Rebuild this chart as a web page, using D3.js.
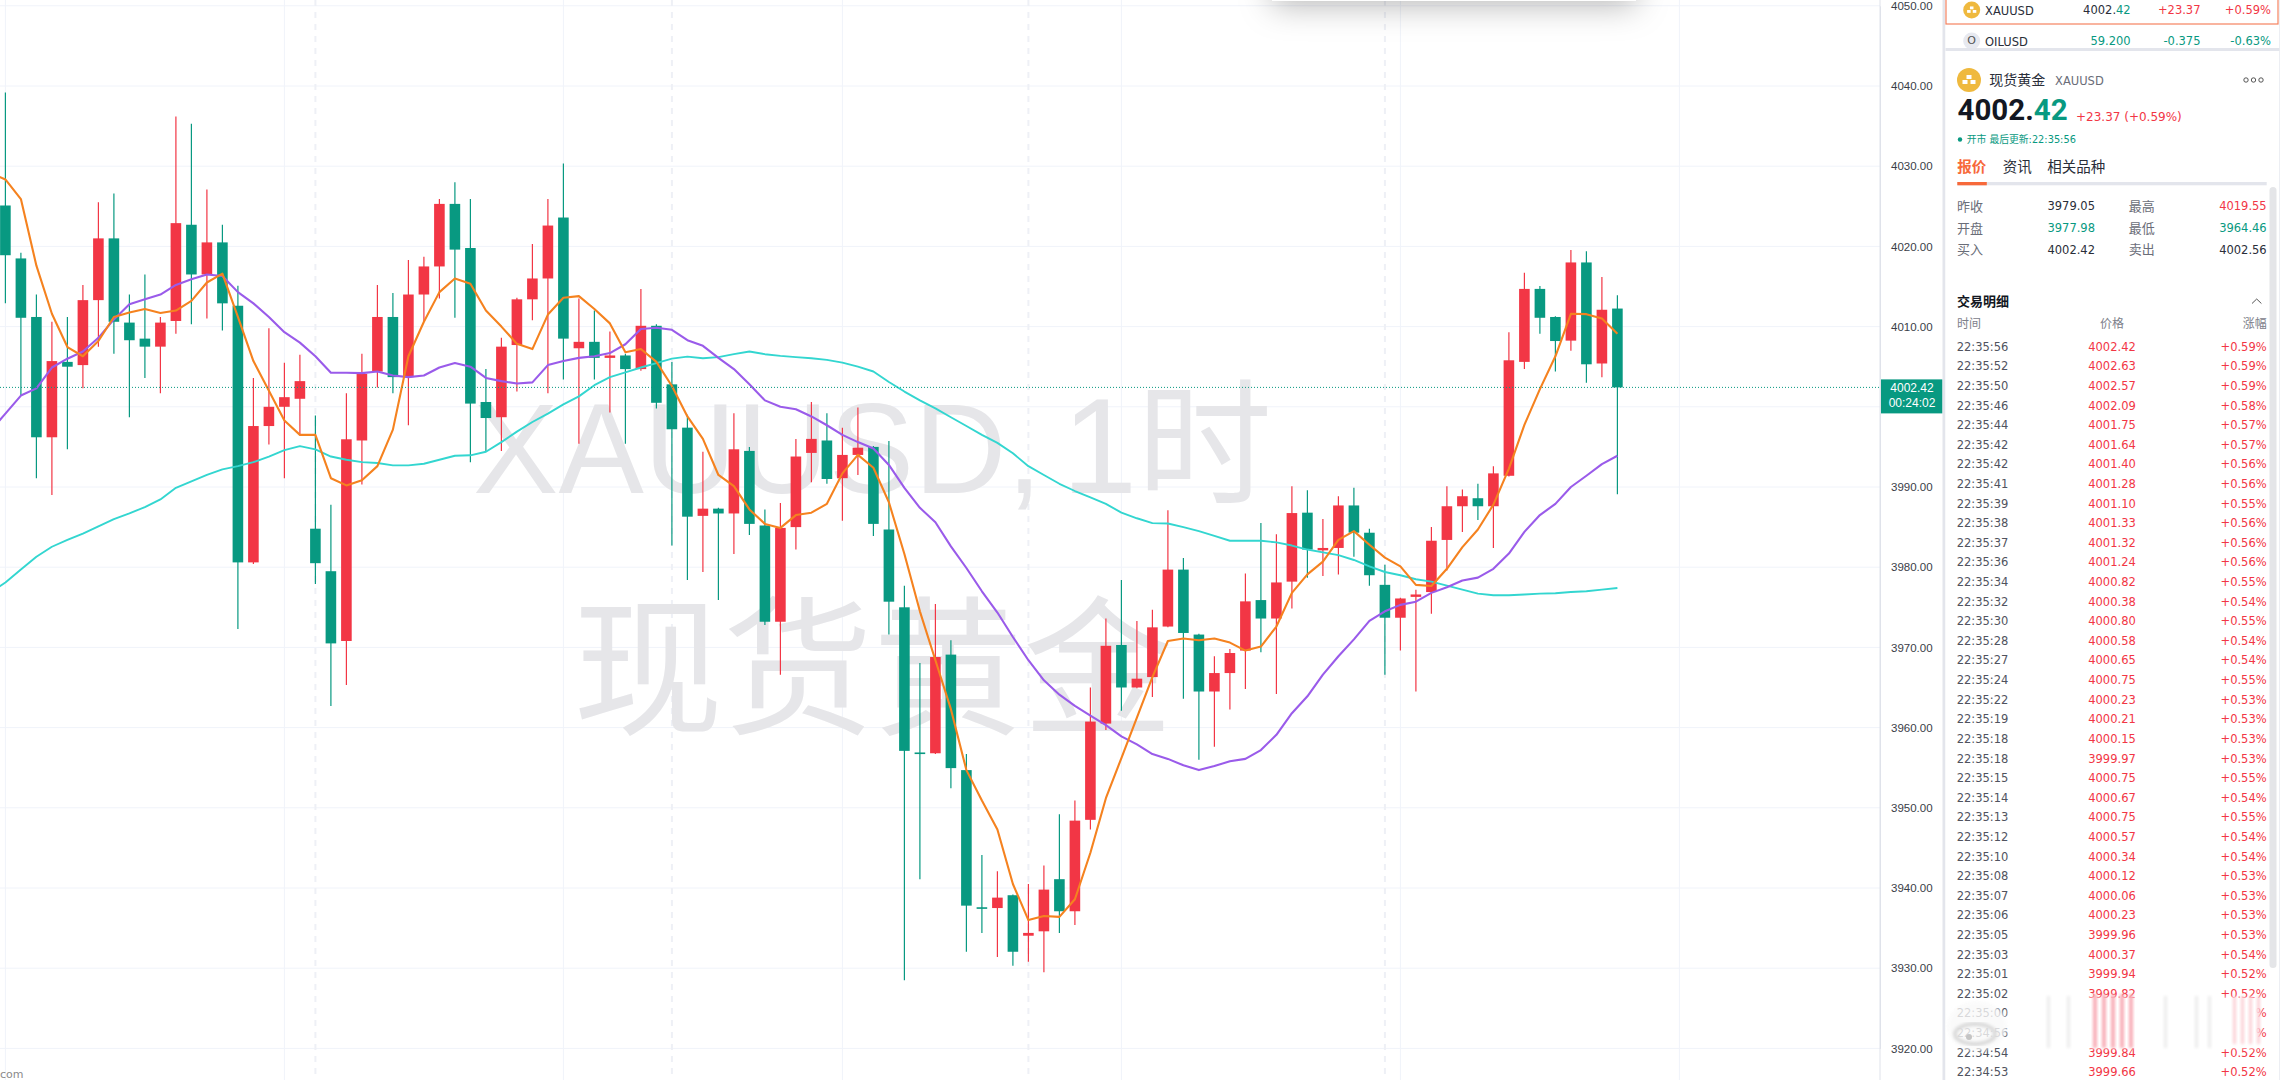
<!DOCTYPE html>
<html>
<head>
<meta charset="utf-8">
<script src="https://d3js.org/d3.v7.min.js"></script>
<style>
  html, body { margin: 0; padding: 0; background: #fff; overflow: hidden; }
  svg { display: block; }
</style>
</head>
<body>
<div id="chart"></div>
<script>
// hourly candles
const opens = [
  4025.1,4018.5,4011.2,3996.2,4005.6,4005.2,4013.3,4021.0,4010.5,4008.5,
  4007.5,4010.7,4022.7,4016.5,4020.5,4012.6,3980.6,3997.6,4000.0,4001.0,
  3984.8,3979.5,3970.8,3995.8,4004.4,4011.2,4003.7,4014.0,4017.5,4025.3,
  4019.8,4000.6,3998.7,4007.7,4013.4,4016.0,4023.6,4007.3,4008.1,4006.1,
  4006.4,4004.7,4010.1,4002.8,3997.4,3986.4,3987.3,3986.7,3994.5,3985.2,
  3973.2,3985.0,3994.25,3995.8,3991.1,3994.0,3995.0,3984.7,3975.0,3956.9,
  3956.8,3969.1,3954.7,3937.6,3937.5,3939.1,3934.05,3934.6,3941.1,3937.1,
  3948.5,3960.5,3970.3,3965.0,3966.3,3972.6,3979.7,3971.6,3964.5,3966.8,
  3969.6,3975.9,3973.6,3978.2,3986.8,3982.1,3982.4,3987.7,3984.3,3977.8,
  3973.7,3976.3,3976.9,3983.4,3987.6,3988.6,3987.6,3991.4,4005.6,4014.7,
  4011.2,4008.25,4018.0,4005.4,4012.25
];
const closes = [
  4018.9,4011.1,3996.2,4005.7,4005.0,4013.3,4021.0,4010.6,4008.3,4007.5,
  4010.5,4022.9,4016.5,4020.5,4012.9,3980.6,3997.6,4000.0,4001.2,4003.2,
  3980.5,3970.5,3995.95,4004.1,4011.2,4003.7,4014.0,4017.5,4025.3,4019.6,
  4000.4,3998.6,4007.5,4013.4,4016.0,4022.6,4008.5,4008.1,4006.1,4006.4,
  4004.7,4010.1,4000.5,3997.2,3986.3,3987.3,3986.7,3994.7,3985.4,3973.2,
  3984.9,3993.8,3996.0,3991.0,3994.0,3994.9,3985.4,3975.7,3957.1,3956.7,
  3968.8,3954.95,3937.8,3937.4,3938.8,3932.05,3934.4,3939.8,3937.1,3948.4,
  3960.75,3970.2,3965.0,3966.1,3972.5,3979.7,3971.8,3964.5,3966.8,3969.3,
  3975.74,3973.6,3978.1,3986.75,3982.2,3982.4,3987.7,3984.3,3979.0,3973.7,
  3976.1,3976.6,3983.3,3987.6,3988.85,3987.6,3991.7,4005.8,4014.7,4011.1,
  4008.2,4018.0,4005.3,4012.1,4002.42
];
const highs = [
  4039.2,4019.2,4014.0,4010.6,4011.2,4015.2,4025.5,4026.6,4014.0,4016.5,
  4011.2,4036.2,4035.3,4027.1,4022.7,4015.1,4003.6,4009.8,4005.5,4006.5,
  3998.9,3987.8,4001.7,4006.6,4015.2,4014.2,4018.3,4018.7,4025.9,4028.0,
  4025.9,4004.7,4008.6,4013.6,4020.3,4025.9,4030.35,4013.5,4012.0,4009.4,
  4006.6,4014.7,4010.3,4005.6,3999.0,3994.4,3987.4,3999.2,3995.0,3987.2,
  3988.0,3996.0,4000.6,3999.2,3997.4,3999.9,3995.1,3995.75,3977.7,3968.05,
  3975.4,3970.9,3956.7,3944.1,3942.1,3939.2,3940.5,3942.8,3949.2,3950.9,
  3965.0,3973.6,3978.4,3973.3,3974.7,3987.1,3981.15,3971.7,3968.9,3969.8,
  3979.2,3985.5,3984.1,3990.1,3989.6,3986.0,3988.85,3989.9,3984.8,3980.3,
  3976.2,3977.2,3985.0,3990.1,3989.7,3990.4,3992.6,4009.3,4016.7,4015.05,
  4011.3,4019.55,4019.4,4016.2,4013.9
];
const lows = [
  4012.9,4001.4,3991.1,3989.0,3994.7,4002.3,4007.5,4006.6,3998.7,4003.6,
  4001.7,4009.1,4010.3,4011.0,4009.5,3972.3,3980.4,3995.3,3991.1,3996.6,
  3977.9,3962.7,3965.3,3990.3,4002.4,4001.7,3997.7,4010.6,4013.5,4011.1,
  3993.1,3994.5,3994.5,4001.9,4010.8,4001.7,4003.4,3995.4,4003.4,3999.3,
  3995.4,4004.5,3999.8,3982.7,3978.4,3979.4,3975.9,3981.65,3984.0,3972.8,
  3966.6,3982.2,3990.6,3990.4,3985.8,3991.5,3983.9,3971.6,3928.5,3941.1,
  3956.7,3952.45,3932.05,3934.4,3931.4,3930.3,3930.8,3929.5,3934.4,3935.4,
  3947.3,3959.7,3962.1,3964.9,3963.8,3972.5,3963.6,3956.0,3957.6,3962.25,
  3964.8,3969.4,3964.2,3974.85,3978.7,3978.9,3979.1,3981.3,3977.7,3966.6,
  3969.6,3964.5,3974.2,3979.6,3984.4,3985.9,3982.4,3991.3,4004.7,4009.1,
  4004.4,4007.0,4003.0,4003.7,3989.1
];

// moving averages, first value belongs to the bar just off the left edge
const maFast = [
  4029.2,4028.35,4025.9,4017.6,4011.6,4007.45,4006.3,4008.2,4011.2,4011.75,4012.2,
  4011.7,4012.0,4013.2,4015.5,4016.6,4011.2,4005.7,4002.0,3998.3,3996.5,
  3996.5,3991.1,3990.2,3990.85,3992.6,3997.15,4006.3,4010.6,4014.3,4016.0,
  4015.35,4012.0,4010.0,4007.85,4007.2,4011.5,4013.6,4013.8,4012.2,4010.4,
  4006.8,4007.2,4005.6,4002.6,3998.8,3996.0,3991.5,3990.1,3987.2,3985.4,
  3984.9,3986.5,3986.8,3987.9,3991.7,3994.0,3992.4,3988.1,3981.65,3974.5,
  3968.4,3962.3,3954.7,3950.9,3947.3,3940.5,3936.0,3936.5,3936.4,3938.6,
  3944.4,3951.2,3956.2,3961.25,3966.3,3970.8,3971.1,3970.9,3971.1,3970.6,
  3969.6,3970.1,3972.6,3976.8,3979.1,3980.7,3983.4,3984.5,3982.8,3981.2,
  3980.1,3977.8,3977.65,3979.8,3982.5,3984.7,3987.8,3992.3,3997.75,4002.2,
  4006.3,4011.6,4011.55,4011.0,4009.1
];
const maMid = [
  3996.9,3999.15,4001.4,4002.3,4004.9,4006.0,4006.9,4008.6,4010.9,4012.8,4013.4,
  4014.0,4015.2,4015.9,4016.5,4016.3,4014.3,4012.9,4011.2,4009.3,4008.0,
  4006.3,4004.25,4004.25,4004.2,4004.4,4003.9,4003.7,4003.9,4004.9,4005.45,
  4005.0,4003.6,4003.2,4002.9,4003.05,4005.2,4005.7,4006.1,4006.3,4006.7,
  4007.8,4009.7,4009.85,4009.6,4008.3,4007.6,4006.1,4004.7,4002.8,4000.8,
  4000.0,3999.7,3998.8,3997.7,3996.5,3995.6,3994.8,3992.75,3989.9,3987.4,
  3985.6,3982.6,3979.9,3977.0,3974.35,3971.3,3968.4,3965.9,3964.1,3962.7,
  3961.5,3960.3,3958.9,3957.9,3956.7,3956.1,3955.3,3954.7,3955.2,3955.8,
  3956.1,3957.2,3959.1,3961.8,3963.9,3966.6,3968.9,3971.0,3973.3,3974.5,
  3975.3,3975.7,3976.8,3977.5,3978.35,3978.7,3979.8,3981.7,3984.4,3986.5,
  3987.9,3990.0,3991.4,3992.85,3993.9
];
const maSlow = [
  3976.8,3978.1,3979.7,3981.3,3982.55,3983.4,3984.2,3985.1,3986.0,3986.7,3987.5,
  3988.45,3989.9,3990.7,3991.5,3992.2,3992.6,3993.1,3993.8,3994.6,3995.1,
  3994.7,3993.8,3993.4,3993.1,3993.0,3992.7,3992.7,3992.9,3993.4,3993.9,
  3993.95,3994.4,3995.6,3996.9,3998.1,3999.15,4000.3,4001.3,4002.7,4003.7,
  4004.3,4004.9,4005.45,4006.0,4006.25,4006.06,4006.2,4006.56,4006.9,4006.56,
  4006.35,4006.2,4006.06,4005.85,4005.5,4005.0,4004.4,4003.1,4001.9,4000.8,
  3999.8,3998.7,3997.6,3996.5,3995.5,3994.2,3992.6,3991.5,3990.4,3989.5,
  3988.7,3987.9,3986.8,3986.1,3985.5,3985.45,3985.0,3984.5,3983.9,3983.3,
  3983.3,3983.3,3983.1,3982.7,3982.2,3981.85,3981.5,3980.9,3980.1,3979.4,
  3979.0,3978.5,3978.2,3977.7,3977.2,3976.7,3976.5,3976.5,3976.6,3976.7,
  3976.76,3976.9,3977.0,3977.2,3977.4
];

const priceTicks = [4050,4040,4030,4020,4010,4000,3990,3980,3970,3960,3950,3940,3930,3920];
const lastPrice = 4002.42;
const countdown = "00:24:02";
const timeGridBars = [0,18,36,54,72,90,108];
const sessionBars = [20,43,66,89];

// side panel contents
const statLabels = [["昨收","最高"],["开盘","最低"],["买入","卖出"]];
const statValues = [["3979.05","4019.55"],["3977.98","3964.46"],["4002.42","4002.56"]];
const tradeTimes = ["22:35:56","22:35:52","22:35:50","22:35:46","22:35:44","22:35:42","22:35:42","22:35:41","22:35:39","22:35:38",
  "22:35:37","22:35:36","22:35:34","22:35:32","22:35:30","22:35:28","22:35:27","22:35:24","22:35:22","22:35:19",
  "22:35:18","22:35:18","22:35:15","22:35:14","22:35:13","22:35:12","22:35:10","22:35:08","22:35:07","22:35:06",
  "22:35:05","22:35:03","22:35:01","22:35:02","22:35:00","22:34:56","22:34:54","22:34:53"];
const tradePrices = ["4002.42","4002.63","4002.57","4002.09","4001.75","4001.64","4001.40","4001.28","4001.10","4001.33",
  "4001.32","4001.24","4000.82","4000.38","4000.80","4000.58","4000.65","4000.75","4000.23","4000.21",
  "4000.15","3999.97","4000.75","4000.67","4000.75","4000.57","4000.34","4000.12","4000.06","4000.23",
  "3999.96","4000.37","3999.94","3999.82","3999.80","3999.86","3999.84","3999.66"];
const tradePcts = ["+0.59%","+0.59%","+0.59%","+0.58%","+0.57%","+0.57%","+0.56%","+0.56%","+0.55%","+0.56%",
  "+0.56%","+0.56%","+0.55%","+0.54%","+0.55%","+0.54%","+0.54%","+0.55%","+0.53%","+0.53%",
  "+0.53%","+0.53%","+0.55%","+0.54%","+0.55%","+0.54%","+0.54%","+0.53%","+0.53%","+0.53%",
  "+0.53%","+0.54%","+0.52%","+0.52%","+0.52%","+0.52%","+0.52%","+0.52%"];

const width = 2283;
const height = 1080;
const chartRight = 1880;
const upColor = "#f23645";
const downColor = "#089981";
const sans = '"DejaVu Sans","Noto Sans CJK SC",sans-serif';

const svg = d3.select("#chart").append("svg")
  .attr("width", width)
  .attr("height", height)
  .style("background", "#fff");

const defs = svg.append("defs");
defs.append("clipPath").attr("id", "plot")
  .append("rect").attr("width", chartRight).attr("height", height);
defs.append("filter").attr("id", "popupShadow")
  .attr("x", "-20%").attr("y", "-50%").attr("width", "140%").attr("height", "300%")
  .append("feDropShadow")
  .attr("dx", 0).attr("dy", 5).attr("stdDeviation", 16)
  .attr("flood-color", "#000").attr("flood-opacity", 0.28);
defs.append("filter").attr("id", "soft")
  .attr("x", "-50%").attr("width", "200%")
  .append("feGaussianBlur").attr("stdDeviation", 1.8);

const x = d3.scaleLinear().domain([0, 104]).range([5.4, 1617.4]);
const y = d3.scaleLinear().domain([3920, 4050]).range([1048.4, 5.8]);

const plot = svg.append("g").attr("clip-path", "url(#plot)");

// grid
plot.selectAll(".hgrid").data(priceTicks).join("line")
  .attr("x1", 0).attr("x2", chartRight)
  .attr("y1", d => y(d)).attr("y2", d => y(d))
  .attr("stroke", "#f0f3fa");
plot.selectAll(".vgrid").data(timeGridBars).join("line")
  .attr("x1", d => x(d)).attr("x2", d => x(d))
  .attr("y1", 0).attr("y2", height)
  .attr("stroke", "#f0f3fa");
plot.selectAll(".session").data(sessionBars).join("line")
  .attr("x1", d => x(d)).attr("x2", d => x(d))
  .attr("y1", 0).attr("y2", height)
  .attr("stroke", "#eef0f6")
  .attr("stroke-width", 2)
  .attr("stroke-dasharray", "6 6");

// watermark
const wm = plot.append("g").attr("fill", "#e6e6e9");
const wmTop = wm.append("text").attr("x", 473).attr("y", 493)
  .style("font-family", '"Liberation Sans","Noto Sans CJK SC",sans-serif')
  .style("font-size", "128px");
wmTop.append("tspan").text("XAUUSD,");
wmTop.append("tspan").attr("dx", 20).style("font-size", "135px").text("1时");
wm.append("text").attr("x", 873).attr("y", 723)
  .attr("text-anchor", "middle")
  .style("font-family", '"Noto Sans CJK SC",sans-serif')
  .style("font-size", "150px")
  .text("现货黄金");

// candles
const bars = d3.range(opens.length);
const barColor = i => closes[i] >= opens[i] ? upColor : downColor;
const bodyWidth = 10.6;

plot.selectAll(".wick").data(bars).join("line")
  .attr("x1", i => x(i)).attr("x2", i => x(i))
  .attr("y1", i => y(highs[i])).attr("y2", i => y(lows[i]))
  .attr("stroke", barColor)
  .attr("stroke-width", 1.2);
plot.selectAll(".body").data(bars).join("rect")
  .attr("x", i => x(i) - bodyWidth / 2)
  .attr("width", bodyWidth)
  .attr("y", i => y(Math.max(opens[i], closes[i])))
  .attr("height", i => Math.max(1.5, Math.abs(y(opens[i]) - y(closes[i]))))
  .attr("fill", barColor);

// averages, the arrays start one bar before the first candle
const maLine = d3.line().x((d, i) => x(i - 1)).y(d => y(d));
[[maSlow, "#33d6d0", 1.9], [maMid, "#9a5bea", 2.1], [maFast, "#f5821f", 2.1]].forEach(([vals, color, w]) => {
  plot.append("path")
    .attr("d", maLine(vals))
    .attr("fill", "none")
    .attr("stroke", color)
    .attr("stroke-width", w)
    .attr("stroke-linejoin", "round");
});

// last price line
plot.append("line")
  .attr("x1", 0).attr("x2", chartRight)
  .attr("y1", y(lastPrice)).attr("y2", y(lastPrice))
  .attr("stroke", downColor)
  .attr("stroke-width", 1)
  .attr("stroke-dasharray", "1 2");

// site text bottom left
svg.append("text")
  .attr("x", 0).attr("y", 1078)
  .attr("fill", "#8a8a8a")
  .style("font-family", sans)
  .style("font-size", "11px")
  .text("com");

// price axis
const axis = svg.append("g")
  .attr("transform", `translate(${chartRight},0)`)
  .call(d3.axisRight(y).tickValues(priceTicks).tickFormat(d3.format(".2f")).tickSize(0).tickPadding(11));
axis.select(".domain").attr("stroke", "#dfe2ea");
axis.selectAll("text")
  .attr("fill", "#3a3d47")
  .style("font-family", '"Liberation Sans",sans-serif')
  .style("font-size", "11.5px");
axis.append("line").attr("y1", 0).attr("y2", height).attr("stroke", "#dfe2ea");

// price tag
const tag = svg.append("g").attr("transform", `translate(${chartRight + 1},${y(lastPrice) - 8})`);
tag.append("rect").attr("width", 61.5).attr("height", 34).attr("fill", downColor);
tag.append("text").attr("x", 31).attr("y", 12.5).attr("fill", "#fff").attr("text-anchor", "middle")
  .style("font-family", '"Liberation Sans",sans-serif').style("font-size", "12px").text(lastPrice.toFixed(2));
tag.append("text").attr("x", 31).attr("y", 28).attr("fill", "#fff").attr("text-anchor", "middle")
  .style("font-family", '"Liberation Sans",sans-serif').style("font-size", "12px").text(countdown);

// popup edge at the top
svg.append("rect")
  .attr("x", 1272).attr("y", -40).attr("width", 364).attr("height", 41)
  .attr("fill", "#fff")
  .attr("filter", "url(#popupShadow)");

// side panel
const panel = svg.append("g").style("font-family", sans);
panel.append("rect").attr("x", 1942.5).attr("y", 0).attr("width", 3).attr("height", height).attr("fill", "#e3e5ec");
panel.append("rect").attr("x", 1945.5).attr("y", 0).attr("width", 334).attr("height", height).attr("fill", "#fff");
panel.append("line").attr("x1", 2279.5).attr("x2", 2279.5).attr("y1", 0).attr("y2", height).attr("stroke", "#eceef3");

function label(x0, y0, str, color, size, anchor, weight) {
  return panel.append("text")
    .attr("x", x0).attr("y", y0)
    .attr("fill", color)
    .attr("text-anchor", anchor || "start")
    .attr("dominant-baseline", "central")
    .style("font-size", size + "px")
    .style("font-weight", weight || 400)
    .text(str);
}
function goldIcon(cx, cy, r) {
  panel.append("circle").attr("cx", cx).attr("cy", cy).attr("r", r).attr("fill", "#efb93e");
  const s = r / 12;
  [[-2.5, -5], [-6.5, 0], [1.5, 0]].forEach(([dx, dy]) => {
    panel.append("rect")
      .attr("x", cx + dx * s).attr("y", cy + dy * s)
      .attr("width", 5 * s).attr("height", 4 * s)
      .attr("fill", "#fff");
  });
}

// watchlist rows
panel.append("rect").attr("x", 1946).attr("y", -3).attr("width", 332).attr("height", 27)
  .attr("fill", "none").attr("stroke", "#f5825f").attr("stroke-width", 1.2);
goldIcon(1971.7, 10, 8.5);
label(1985, 10.5, "XAUUSD", "#2a2e39", 11.5);
const xauPrice = label(2130.7, 10, "", "#2a2e39", 11.5, "end");
xauPrice.append("tspan").text("4002.");
xauPrice.append("tspan").attr("fill", downColor).text("42");
label(2200.5, 10, "+23.37", upColor, 11.5, "end");
label(2271, 10, "+0.59%", upColor, 11.5, "end");
panel.append("circle").attr("cx", 1971.7).attr("cy", 41).attr("r", 8.5).attr("fill", "#e7e9f0");
label(1971.7, 40, "O", "#555", 11, "middle");
label(1985, 42, "OILUSD", "#2a2e39", 11.5);
label(2130.7, 41, "59.200", downColor, 11.5, "end");
label(2200.5, 41, "-0.375", downColor, 11.5, "end");
label(2271, 41, "-0.63%", downColor, 11.5, "end");
panel.append("rect").attr("x", 1945.5).attr("y", 48).attr("width", 334).attr("height", 3).attr("fill", "#e3e5ec");

// quote header
goldIcon(1969, 80, 12);
label(1989.3, 80, "现货黄金", "#2a2e39", 14);
label(2055, 81, "XAUUSD", "#6a6d78", 11.5);
[2246, 2253.5, 2261].forEach(cx => {
  panel.append("circle").attr("cx", cx).attr("cy", 80).attr("r", 2.2)
    .attr("fill", "none").attr("stroke", "#444").attr("stroke-width", 0.9);
});
const bigPrice = panel.append("text").attr("x", 1957.5).attr("y", 120).attr("fill", "#131722")
  .style("font-family", "Roboto,sans-serif").style("font-size", "29.5px").style("font-weight", 700);
bigPrice.append("tspan").text("4002.");
bigPrice.append("tspan").attr("fill", downColor).text("42");
label(2076, 116.5, "+23.37 (+0.59%)", upColor, 12);
panel.append("circle").attr("cx", 1960).attr("cy", 139.5).attr("r", 2.2).attr("fill", downColor);
label(1966.7, 139, "开市 最后更新:22:35:56", downColor, 9.8);

// tabs
label(1957.3, 166.5, "报价", "#f7693a", 14.5, "start", 700);
label(2002.7, 166.5, "资讯", "#2a2e39", 14.5);
label(2047.3, 166.5, "相关品种", "#2a2e39", 14.5);
panel.append("rect").attr("x", 1957.3).attr("y", 182).attr("width", 309.4).attr("height", 3.3).attr("fill", "#e3e5ec");
panel.append("rect").attr("x", 1957.3).attr("y", 182).attr("width", 29.5).attr("height", 3.3).attr("fill", "#f7693a");
panel.append("rect").attr("x", 2269.5).attr("y", 187).attr("width", 7).attr("height", 781).attr("rx", 3.5).attr("fill", "#e4e5e8");

// quote stats
const statColor = [["#2a2e39", upColor], [downColor, downColor], ["#2a2e39", "#2a2e39"]];
const statRows = [206, 228, 249.5];
statRows.forEach((ry, r) => {
  label(1957, ry, statLabels[r][0], "#6a6d78", 13);
  label(2095, ry, statValues[r][0], statColor[r][0], 11.5, "end");
  label(2128.7, ry, statLabels[r][1], "#6a6d78", 13);
  label(2266.7, ry, statValues[r][1], statColor[r][1], 11.5, "end");
});

// trade list
label(1957, 301, "交易明细", "#131722", 13, "start", 700);
panel.append("path").attr("d", "M2252,303.5L2256.7,299L2261.4,303.5").attr("fill", "none").attr("stroke", "#555");
label(1957, 323.5, "时间", "#7d808a", 12);
label(2112, 323.5, "价格", "#7d808a", 12, "middle");
label(2266.7, 323.5, "涨幅", "#7d808a", 12, "end");

const rowY = d3.scaleLinear().domain([0, 37]).range([346.7, 1072.3]);
const rows = panel.selectAll(".trade").data(tradeTimes).join("g")
  .attr("transform", (d, i) => `translate(0,${rowY(i)})`);
rows.append("text").attr("x", 1956.7).attr("dominant-baseline", "central")
  .attr("fill", "#50535e").style("font-size", "11.5px").text(d => d);
rows.append("text").attr("x", 2112).attr("text-anchor", "middle").attr("dominant-baseline", "central")
  .attr("fill", upColor).style("font-size", "11.5px").text((d, i) => tradePrices[i]);
rows.append("text").attr("x", 2266.7).attr("text-anchor", "end").attr("dominant-baseline", "central")
  .attr("fill", upColor).style("font-size", "11.5px").text((d, i) => tradePcts[i]);

// site stamp smeared over the list
const stamp = svg.append("g");
stamp.append("rect").attr("x", 2008).attr("y", 998).attr("width", 250).attr("height", 50)
  .attr("fill", "#fff").attr("filter", "url(#soft)");
d3.range(2093, 2137, 9).forEach(sx => {
  stamp.append("rect").attr("x", sx).attr("y", 994).attr("width", 4).attr("height", 54)
    .attr("fill", "#f8aeb7").attr("filter", "url(#soft)");
});
d3.range(2233, 2258, 8).forEach(sx => {
  stamp.append("rect").attr("x", sx).attr("y", 996).attr("width", 3).attr("height", 48)
    .attr("fill", "#fbd0d5").attr("filter", "url(#soft)");
});
[2047, 2067, 2164, 2195, 2208].forEach(sx => {
  stamp.append("rect").attr("x", sx).attr("y", 996).attr("width", 3).attr("height", 52)
    .attr("fill", "#ececec").attr("filter", "url(#soft)");
});
stamp.append("ellipse").attr("cx", 1977).attr("cy", 1026).attr("rx", 30).attr("ry", 25)
  .attr("fill", "#fafafa").attr("opacity", 0.8).attr("filter", "url(#soft)");
stamp.append("ellipse").attr("cx", 1975).attr("cy", 1034).attr("rx", 20).attr("ry", 10)
  .attr("fill", "none").attr("stroke", "#dadada").attr("stroke-width", 4).attr("filter", "url(#soft)");
stamp.append("circle").attr("cx", 1969).attr("cy", 1037).attr("r", 3).attr("fill", "#c4c4c4");
</script>
</body>
</html>
